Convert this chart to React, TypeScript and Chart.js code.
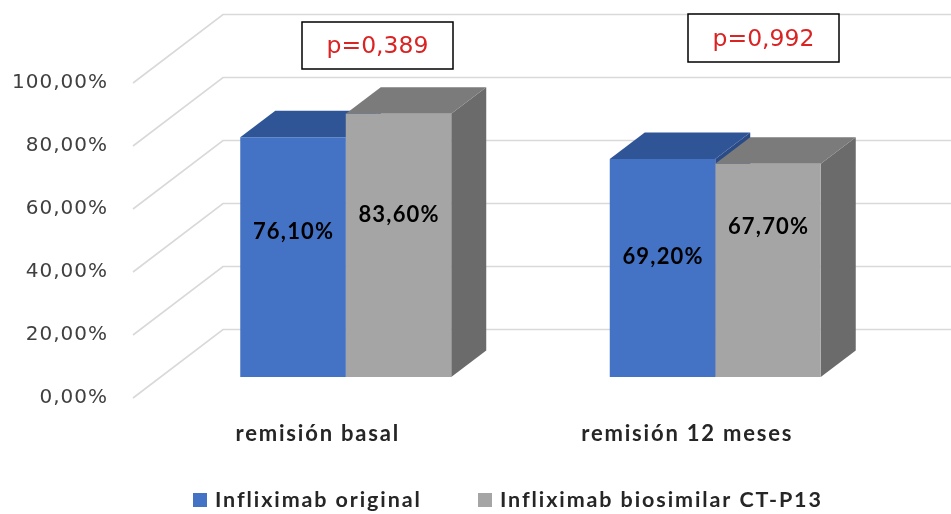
import React, { useEffect, useRef } from 'react';
import { Chart, registerables } from 'chart.js';

Chart.register(...registerables);

// ---- data ----
const categories = ['remisión basal', 'remisión 12 meses'];
const seriesNames = ['Infliximab original', 'Infliximab biosimilar CT-P13'];
const originalValues = [76.1, 69.2];
const biosimilarValues = [83.6, 67.7];
const pValueLabels = ['p=0,389', 'p=0,992'];
const yTickValues = [0, 20, 40, 60, 80, 100];

// ---- styling / geometry (not data) ----
const W = 951;
const H = 514;
const FRONT_COLORS = ['#4472C4', '#A5A5A5'];
const TOP_COLORS = ['#2F5597', '#7B7B7B'];
const SIDE_COLORS = ['#2A4B86', '#6B6B6B'];
const WALL_DX = 90; // depth of the floor/side wall
const WALL_DY = 68.5;
const BAR_OFF_DX = 28; // front face of the bars inside the depth
const BAR_OFF_DY = 21;
const BAR_DX = 35; // bar depth
const BAR_DY = 26.5;
// label anchor (in value units) for each series / category
const LABEL_ANCHORS = [
  [46.0, 38.1],
  [51.4, 47.6],
];
const P_BOXES = [
  { x: 302, y: 22, w: 151, h: 47 },
  { x: 688, y: 14, w: 151, h: 48 },
];
const LEGEND_ITEMS = [
  { box: 193, text: 215 },
  { box: 478, text: 500 },
];

const fmtPct = (v: number) => v.toFixed(2).replace('.', ',') + '%';

const setSpacing = (ctx: any, s: string) => {
  try {
    ctx.letterSpacing = s;
  } catch (e) {
    /* ignore */
  }
};

const threeD = {
  id: 'threeD',
  beforeDraw(chart: any) {
    // y-axis labels (drawn before the datasets)
    setSpacing(chart.ctx, '1px');
  },
  beforeDatasetsDraw(chart: any) {
    const { ctx, chartArea, scales } = chart;
    setSpacing(ctx, '0px');
    const y = scales.y;
    // walls / gridlines
    ctx.save();
    ctx.strokeStyle = '#D9D9D9';
    ctx.lineWidth = 1.6;
    yTickValues.forEach((v) => {
      const py = y.getPixelForValue(v);
      ctx.beginPath();
      ctx.moveTo(chartArea.left, py);
      ctx.lineTo(chartArea.left + WALL_DX, py - WALL_DY);
      ctx.lineTo(W, py - WALL_DY);
      ctx.stroke();
    });
    ctx.restore();

    // tops and sides of the bars
    const nCat = categories.length;
    for (let i = 0; i < nCat; i++) {
      chart.data.datasets.forEach((_: any, di: number) => {
        const meta = chart.getDatasetMeta(di);
        const el = meta.data[i];
        if (!el) return;
        const p = el.getProps(['x', 'y', 'base', 'width'], true);
        const l = p.x - p.width / 2 + BAR_OFF_DX;
        const r = p.x + p.width / 2 + BAR_OFF_DX;
        const t = p.y - BAR_OFF_DY;
        const b = p.base - BAR_OFF_DY;
        // side
        ctx.fillStyle = SIDE_COLORS[di];
        ctx.beginPath();
        ctx.moveTo(r, t);
        ctx.lineTo(r + BAR_DX, t - BAR_DY);
        ctx.lineTo(r + BAR_DX, b - BAR_DY);
        ctx.lineTo(r, b);
        ctx.closePath();
        ctx.fill();
        // top
        ctx.fillStyle = TOP_COLORS[di];
        ctx.beginPath();
        ctx.moveTo(l, t);
        ctx.lineTo(r, t);
        ctx.lineTo(r + BAR_DX, t - BAR_DY);
        ctx.lineTo(l + BAR_DX, t - BAR_DY);
        ctx.closePath();
        ctx.fill();
      });
    }
    // front faces drawn by Chart.js, shifted into the depth
    ctx.save();
    ctx.translate(BAR_OFF_DX, -BAR_OFF_DY);
  },
  afterDatasetsDraw(chart: any) {
    const { ctx, scales } = chart;
    ctx.restore();
    const y = scales.y;
    ctx.save();
    setSpacing(ctx, '1.2px');
    ctx.font = 'bold 22px Lato';
    ctx.fillStyle = '#000000';
    ctx.textAlign = 'center';
    ctx.textBaseline = 'middle';
    chart.data.datasets.forEach((ds: any, di: number) => {
      const meta = chart.getDatasetMeta(di);
      meta.data.forEach((el: any, i: number) => {
        const p = el.getProps(['x'], true);
        const py = y.getPixelForValue(LABEL_ANCHORS[di][i]) - BAR_OFF_DY;
        ctx.fillText(fmtPct(ds.data[i]), p.x + BAR_OFF_DX + 0.6, py);
      });
    });
    ctx.restore();
    // x-axis labels are drawn after the datasets (ticks.z: 1)
    setSpacing(ctx, '1.8px');
  },
  afterDraw(chart: any) {
    const { ctx } = chart;
    setSpacing(ctx, '0px');
    ctx.save();
    // p-value boxes
    P_BOXES.forEach((bx, i) => {
      ctx.fillStyle = '#FFFFFF';
      ctx.fillRect(bx.x, bx.y, bx.w, bx.h);
      ctx.strokeStyle = '#000000';
      ctx.lineWidth = 1.5;
      ctx.strokeRect(bx.x, bx.y, bx.w, bx.h);
      setSpacing(ctx, '0px');
      ctx.fillStyle = '#DA2323';
      ctx.font = '23.5px "DejaVu Sans"';
      ctx.textAlign = 'center';
      ctx.textBaseline = 'middle';
      ctx.fillText(pValueLabels[i], bx.x + bx.w / 2, bx.y + bx.h / 2 + 1.5);
    });
    // legend
    setSpacing(ctx, '1.9px');
    ctx.font = 'bold 21.5px Lato';
    ctx.textAlign = 'left';
    ctx.textBaseline = 'middle';
    LEGEND_ITEMS.forEach((it, i) => {
      ctx.fillStyle = FRONT_COLORS[i];
      ctx.fillRect(it.box, 493, 14, 14);
      ctx.fillStyle = '#262626';
      ctx.fillText(seriesNames[i], it.text, 500);
    });
    setSpacing(ctx, '0px');
    ctx.restore();
  },
};

export default function App() {
  const ref = useRef<HTMLCanvasElement | null>(null);
  useEffect(() => {
    if (!ref.current) return;
    const chart = new Chart(ref.current, {
      type: 'bar',
      data: {
        labels: categories,
        datasets: [
          {
            label: seriesNames[0],
            data: originalValues,
            backgroundColor: FRONT_COLORS[0],
            borderWidth: 0,
            categoryPercentage: 0.571,
            barPercentage: 1,
            clip: false as any,
          },
          {
            label: seriesNames[1],
            data: biosimilarValues,
            backgroundColor: FRONT_COLORS[1],
            borderWidth: 0,
            categoryPercentage: 0.571,
            barPercentage: 1,
            clip: false as any,
          },
        ],
      },
      options: {
        responsive: false,
        animation: false,
        devicePixelRatio: 1,
        layout: { padding: { top: 83, right: W - 872, bottom: 0, left: 0 } },
        plugins: {
          legend: { display: false },
          tooltip: { enabled: false },
        },
        scales: {
          y: {
            min: 0,
            max: 100,
            ticks: {
              stepSize: 20,
              padding: 25,
              color: '#404040',
              font: { family: '"DejaVu Sans"', size: 20 },
              callback: (v: any) => fmtPct(Number(v)),
            },
            grid: { display: false, drawTicks: false },
            border: { display: false },
            afterFit: (s: any) => {
              s.width = 133;
            },
          },
          x: {
            ticks: {
              z: 1,
              padding: 23,
              color: '#262626',
              font: { family: 'Lato', size: 22, weight: 'bold' },
            },
            grid: { display: false, drawTicks: false },
            border: { display: false },
            afterFit: (s: any) => {
              s.height = H - 398;
            },
          },
        },
      },
      plugins: [threeD],
    });
    return () => chart.destroy();
  }, []);
  return (
    <div style={{ position: 'fixed', left: 0, top: 0, width: W, height: H, background: '#fff' }}>
      <canvas ref={ref} width={W} height={H} style={{ display: 'block' }} />
    </div>
  );
}
